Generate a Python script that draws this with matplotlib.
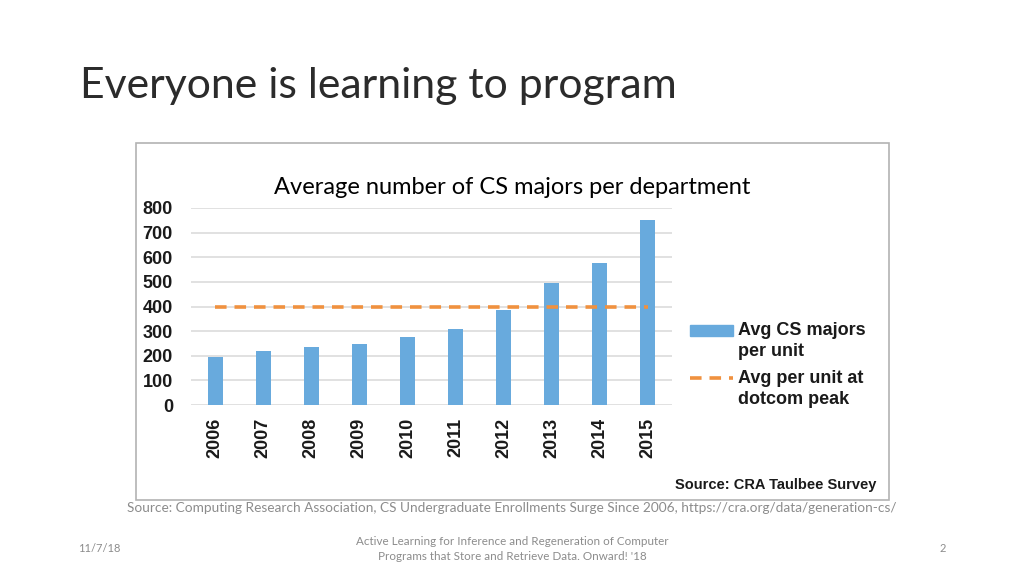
import numpy as np
import matplotlib
matplotlib.use("Agg")
import matplotlib.pyplot as plt
from matplotlib.patches import Rectangle
from matplotlib.lines import Line2D

# data
years = ['2006', '2007', '2008', '2009', '2010', '2011', '2012', '2013', '2014', '2015']
majors = [195, 221, 234, 249, 276, 310, 386, 497, 578, 751]
dotcom_peak = 400
yticks = [0, 100, 200, 300, 400, 500, 600, 700, 800]

blue = '#68aadd'
orange = '#f0913f'
gray_txt = '#8c8c8c'
W, H = 1024, 576

fig = plt.figure(figsize=(10.24, 5.76), dpi=100)

def fx(px):
    return px / W

def fy(py):
    return 1 - py / H

# slide title
fig.text(fx(80), fy(86), 'Everyone is learning to program',
         fontsize=30.8, family='Lato', color='#2b2b2b', ha='left', va='center')

# frame around the pasted chart
fig.patches.append(Rectangle((fx(136), fy(500)), (889 - 136) / W, (500 - 143) / H,
                             transform=fig.transFigure, fill=False,
                             edgecolor='#b3b3b3', linewidth=1.2))

ax = fig.add_axes([fx(191), fy(405), (672 - 191) / W, (405 - 208) / H])
x = np.arange(len(years))
ax.bar(x, majors, width=0.31, color=blue, zorder=2)
ax.plot([x[0], x[-1]], [dotcom_peak, dotcom_peak], color=orange, lw=2.6,
        dashes=(3.2, 2.2), zorder=3)

ax.set_xlim(-0.5, len(years) - 0.5)
ax.set_ylim(0, 800)
ax.set_yticks(yticks)
ax.set_xticks(x)
ax.set_xticklabels(years, rotation=90)
ax.yaxis.grid(True, color='#dcdcdc', lw=1.2, zorder=0)
ax.set_axisbelow(True)
for s in ax.spines.values():
    s.set_visible(False)
ax.tick_params(length=0, labelsize=13)
ax.tick_params(axis='y', pad=13)
ax.tick_params(axis='x', pad=9)
for lab in ax.get_xticklabels() + ax.get_yticklabels():
    lab.set_family('Liberation Sans')
    lab.set_fontweight('bold')
    lab.set_color('#1a1a1a')

fig.text(fx(512), fy(187), 'Average number of CS majors per department',
         fontsize=17, family='Lato', color='black', ha='center', va='center')

# legend, drawn by hand so the keys sit on the first text line
fig.patches.append(Rectangle((fx(690), fy(336)), 43 / W, 11 / H,
                             transform=fig.transFigure, color=blue))
fig.lines.append(Line2D([fx(690), fx(733)], [fy(378), fy(378)], transform=fig.transFigure,
                        color=orange, lw=2.6, dashes=(3.2, 2.2)))
leg_font = dict(family='Liberation Sans', fontweight='bold', fontsize=13,
                color='#1a1a1a', ha='left', va='center', linespacing=1.3)
fig.text(fx(738), fy(341), 'Avg CS majors\nper unit', **leg_font)
fig.text(fx(738), fy(389), 'Avg per unit at\ndotcom peak', **leg_font)

fig.text(fx(876), fy(485), 'Source: CRA Taulbee Survey',
         fontsize=10.5, family='Liberation Sans', fontweight='bold', color='#1a1a1a',
         ha='right', va='center')

fig.text(fx(512), fy(508),
         'Source: Computing Research Association, CS Undergraduate Enrollments Surge Since 2006, https://cra.org/data/generation-cs/',
         fontsize=9.8, family='Lato', color=gray_txt, ha='center', va='center')

# footer
fig.text(fx(78), fy(548), '11/7/18', fontsize=8, family='Lato', color=gray_txt,
         ha='left', va='center')
fig.text(fx(512), fy(549),
         'Active Learning for Inference and Regeneration of Computer\nPrograms that Store and Retrieve Data. Onward! \'18',
         fontsize=8.4, family='Lato', color=gray_txt, ha='center', va='center', linespacing=1.5)
fig.text(fx(946), fy(548), '2', fontsize=8, family='Lato', color=gray_txt,
         ha='right', va='center')

fig.savefig('out.png', dpi=100, facecolor='white')
